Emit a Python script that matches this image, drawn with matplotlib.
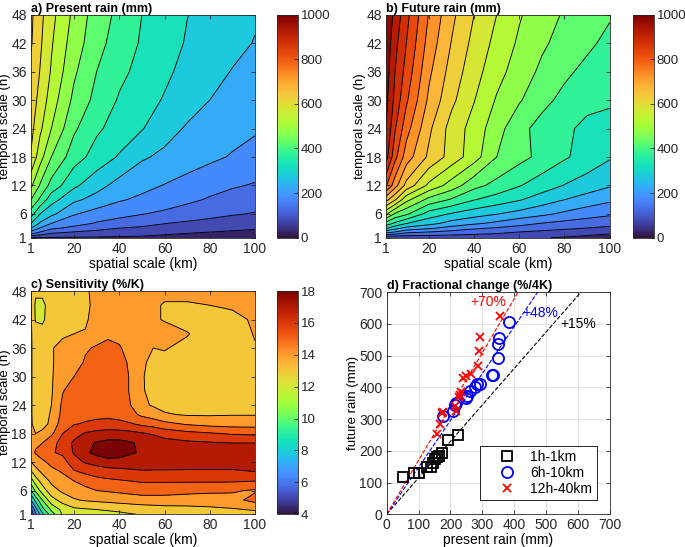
import numpy as np
import matplotlib
matplotlib.use("Agg")
import matplotlib.pyplot as plt
from matplotlib import colors, cm

plt.rcParams['font.family'] = ['Liberation Sans', 'DejaVu Sans']
plt.rcParams['axes.edgecolor'] = '#262626'
plt.rcParams['axes.linewidth'] = 0.6
plt.rcParams['xtick.color'] = '#262626'
plt.rcParams['ytick.color'] = '#262626'

# ---- panels a/b: rain vs spatial (km) and temporal (h) scale ----
km = [1, 5, 10, 20, 30, 40, 50, 60, 70, 80, 90, 100]
hours = [1, 2, 3, 4, 6, 9, 12, 18, 24, 30, 36, 42, 48]

present = [
    [50, 48, 47, 46, 45, 43, 41, 38, 34, 30, 25, 20],
    [170, 138, 104, 90, 82, 75, 68, 58, 52, 46, 40, 35],
    [250, 196, 160, 135, 115, 100, 92, 85, 77, 69, 62, 56],
    [300, 243, 200, 170, 145, 130, 116, 101, 92, 84, 77, 70],
    [372, 300, 262, 204, 180, 165, 152, 140, 127, 115, 104, 97],
    [450, 390, 320, 260, 232, 205, 190, 176, 160, 145, 132, 121],
    [510, 445, 382, 310, 268, 232, 214, 198, 182, 167, 155, 146],
    [595, 520, 450, 372, 330, 295, 256, 240, 225, 210, 196, 182],
    [615, 560, 500, 408, 358, 330, 303, 268, 245, 230, 217, 206],
    [625, 585, 525, 438, 385, 345, 320, 296, 270, 250, 234, 220],
    [640, 598, 545, 458, 400, 362, 335, 310, 285, 265, 248, 234],
    [655, 608, 555, 475, 418, 375, 345, 320, 296, 277, 262, 248],
    [660, 615, 565, 488, 425, 388, 350, 325, 301, 283, 268, 255],
]

future = [
    [57, 61, 66, 69, 68, 65, 63, 59, 52, 47, 39, 31],
    [200, 182, 148, 136, 125, 116, 106, 91, 81, 72, 63, 56],
    [306, 268, 234, 208, 180, 157, 145, 135, 122, 110, 99, 90],
    [381, 339, 301, 267, 231, 208, 188, 164, 148, 135, 125, 116],
    [509, 442, 409, 328, 295, 272, 252, 232, 211, 190, 172, 158],
    [668, 605, 515, 434, 394, 352, 328, 304, 276, 250, 228, 209],
    [806, 721, 634, 538, 478, 416, 384, 353, 325, 298, 277, 255],
    [920, 815, 725, 640, 580, 522, 450, 416, 386, 356, 331, 305],
    [950, 855, 770, 660, 580, 530, 470, 415, 382, 358, 340, 335],
    [965, 885, 808, 690, 612, 552, 495, 455, 415, 386, 362, 356],
    [975, 900, 832, 710, 630, 570, 518, 476, 440, 410, 387, 371],
    [985, 915, 850, 730, 648, 585, 535, 492, 458, 432, 410, 387],
    [995, 935, 866, 747, 662, 600, 550, 505, 471, 445, 425, 405],
]

# ---- panel c: sensitivity (%/K) ----
km_c = [1, 3, 6, 10, 15, 20, 25, 30, 35, 40, 45, 50, 55, 60, 70, 80, 90, 100]
hours_c = [1, 2, 4, 6, 8, 10, 12, 14, 16, 18, 20, 22, 24, 27, 30, 33, 36, 39, 42, 45, 48]

# one list per spatial scale (km_c), values along hours_c
sens_by_km = [
    [4.2, 4.8, 7.0, 8.9, 10.5, 11.9, 13.0, 13.5, 13.4, 13.2, 13.1, 13.1, 13.1, 13.1, 13.1, 13.1, 13.1, 13.1, 13.1, 13.1, 13.1],
    [5.7, 6.6, 8.3, 10.2, 11.5, 12.6, 13.4, 14.1, 13.8, 13.0, 12.7, 12.6, 12.6, 12.6, 12.6, 12.6, 12.6, 12.5, 11.9, 11.8, 12.2],
    [7.7, 8.6, 10.0, 11.5, 12.4, 13.2, 13.8, 14.5, 14.0, 13.2, 12.7, 12.6, 12.6, 12.6, 12.6, 12.6, 12.6, 12.4, 11.8, 11.7, 12.3],
    [9.5, 10.2, 11.6, 12.6, 13.2, 13.7, 14.3, 14.9, 14.7, 13.8, 13.2, 13.1, 13.0, 12.9, 12.9, 12.9, 12.95, 12.7, 12.6, 12.6, 12.7],
    [11.1, 11.3, 12.4, 13.2, 13.6, 14.1, 14.6, 15.2, 15.3, 15.0, 14.6, 14.3, 14.2, 13.95, 13.6, 13.4, 13.2, 12.9, 12.7, 12.7, 12.7],
    [11.4, 11.8, 12.9, 13.5, 14.0, 14.9, 15.6, 16.1, 16.2, 15.6, 14.95, 14.7, 14.6, 14.4, 14.0, 13.6, 13.3, 13.0, 12.8, 12.75, 12.8],
    [11.5, 11.9, 13.1, 13.7, 14.4, 15.2, 16.1, 16.8, 16.7, 16.1, 15.1, 14.7, 14.6, 14.5, 14.3, 14.1, 13.9, 13.05, 12.9, 12.85, 12.9],
    [11.6, 12.0, 13.2, 14.0, 14.7, 15.4, 16.4, 17.3, 17.1, 16.3, 15.3, 14.7, 14.6, 14.6, 14.5, 14.4, 14.1, 13.6, 13.3, 13.2, 13.2],
    [11.7, 12.1, 13.3, 14.1, 14.8, 15.6, 16.6, 17.6, 17.3, 16.4, 15.4, 14.7, 14.6, 14.6, 14.6, 14.5, 14.3, 13.8, 13.4, 13.3, 13.3],
    [11.8, 12.2, 13.4, 14.2, 14.9, 15.7, 16.6, 17.5, 17.3, 16.4, 15.3, 14.6, 14.5, 14.5, 14.5, 14.4, 14.1, 13.7, 13.4, 13.3, 13.3],
    [11.95, 12.3, 13.5, 14.3, 15.0, 15.8, 16.6, 17.1, 17.1, 16.3, 15.1, 14.3, 14.0, 13.9, 13.9, 13.8, 13.6, 13.4, 13.3, 13.3, 13.4],
    [12.05, 12.4, 13.6, 14.4, 15.1, 15.9, 16.6, 16.9, 16.8, 16.1, 14.8, 13.8, 13.2, 13.05, 13.05, 13.1, 13.15, 13.2, 13.2, 13.3, 13.4],
    [12.1, 12.5, 13.6, 14.4, 15.1, 15.9, 16.5, 16.8, 16.6, 15.9, 14.6, 13.5, 12.9, 12.85, 12.8, 12.85, 13.0, 13.1, 13.1, 13.2, 13.3],
    [12.2, 12.6, 13.6, 14.4, 15.1, 15.9, 16.5, 16.7, 16.4, 15.6, 14.3, 13.1, 12.7, 12.6, 12.6, 12.8, 13.05, 13.3, 12.95, 12.9, 13.3],
    [12.3, 12.7, 13.5, 14.3, 15.1, 15.9, 16.4, 16.6, 16.2, 15.3, 13.9, 12.9, 12.6, 12.5, 12.5, 12.6, 12.8, 13.05, 12.7, 12.9, 13.3],
    [12.4, 12.8, 13.5, 14.2, 15.1, 15.9, 16.4, 16.5, 16.1, 15.1, 13.7, 12.9, 12.6, 12.5, 12.5, 12.5, 12.6, 12.6, 12.7, 13.0, 13.2],
    [12.4, 12.9, 13.7, 14.1, 15.1, 15.9, 16.4, 16.4, 16.0, 14.9, 13.6, 12.95, 12.6, 12.5, 12.5, 12.5, 12.6, 12.6, 12.8, 13.1, 13.2],
    [12.6, 13.1, 14.3, 13.9, 15.0, 16.0, 16.5, 16.4, 16.0, 14.8, 13.6, 12.95, 12.7, 12.6, 12.6, 12.7, 12.95, 13.05, 13.1, 13.2, 13.2],
]

# ---- panel d: present vs future rain ----
present_1h1km = [50, 86, 101, 125, 140, 146, 151, 159, 165, 172, 193, 224]
future_1h1km = [119, 129, 131, 150, 150, 163, 174, 182, 185, 194, 234, 249]
present_6h10km = [175, 209, 214, 216, 248, 253, 261, 276, 282, 292, 329, 334, 348, 350, 352, 383]
future_6h10km = [311, 326, 346, 350, 366, 372, 389, 400, 410, 411, 438, 438, 493, 536, 556, 607]
present_12h40km = [157, 166, 172, 176, 215, 218, 226, 230, 233, 238, 249, 263, 285, 290, 291, 354]
future_12h40km = [252, 285, 320, 322, 340, 325, 370, 375, 384, 431, 436, 442, 468, 516, 558, 624]
change_pct = [15, 48, 70]
change_cols = ['k', 'b', 'r']


cmap = plt.get_cmap('turbo')
fig = plt.figure(figsize=(6.85, 5.47), dpi=100)


def style_axes(ax):
    ax.tick_params(direction='in', top=True, right=True, length=3, width=0.6,
                   labelsize=10, pad=3)


def field_panel(pos, cpos, xs, ys, z, levels, vmin, vmax, cticks, title,
                upper=False):
    ax = fig.add_axes(pos)
    X, Y = np.meshgrid(xs, ys)
    norm = colors.Normalize(vmin, vmax)
    if upper:
        # band coloured by its upper level
        fills = [cmap(norm(l)) for l in levels[1:]]
        ax.contourf(X, Y, z, levels=levels, colors=fills)
    else:
        ax.contourf(X, Y, z, levels=levels, cmap=cmap, norm=norm)
    ax.contour(X, Y, z, levels=levels, colors='k', linewidths=0.65)
    ax.set_xlim(1, 100)
    ax.set_ylim(1, 48)
    ax.set_xticks([1, 20, 40, 60, 80, 100])
    ax.set_yticks([1, 6, 12, 18, 24, 30, 36, 42, 48])
    ax.set_xlabel('spatial scale (km)', fontsize=10, labelpad=0.5)
    ax.set_ylabel('temporal scale (h)', fontsize=9.5, labelpad=0)
    ax.set_title(title, loc='left', fontsize=9, fontweight='bold', pad=2)
    style_axes(ax)
    cax = fig.add_axes(cpos)
    cb = fig.colorbar(cm.ScalarMappable(norm=norm, cmap=cmap), cax=cax)
    cb.set_ticks(cticks)
    cb.outline.set_linewidth(0.6)
    cax.tick_params(direction='in', length=3, width=0.6, labelsize=9.5, pad=2)
    return ax


lev_rain = np.arange(0, 1001, 50)
field_panel([0.0453, 0.5655, 0.327, 0.4077], [0.404, 0.5655, 0.0307, 0.4077],
            km, hours, np.array(present), lev_rain, 0, 1000,
            [0, 200, 400, 600, 800, 1000], 'a) Present rain (mm)')
field_panel([0.5635, 0.5655, 0.3265, 0.4077], [0.9236, 0.5655, 0.0311, 0.4077],
            km, hours, np.array(future), lev_rain, 0, 1000,
            [0, 200, 400, 600, 800, 1000], 'b) Future rain (mm)')
field_panel([0.0453, 0.0598, 0.327, 0.4082], [0.404, 0.0598, 0.0307, 0.4082],
            km_c, hours_c, np.array(sens_by_km).T, np.arange(4, 19, 1), 4, 18,
            [4, 6, 8, 10, 12, 14, 16, 18], 'c) Sensitivity (%/K)', upper=True)

# panel d
ax = fig.add_axes([0.5645, 0.0598, 0.326, 0.4059])
ax.grid(True, color='#dcdcdc', linewidth=0.6)
ax.set_axisbelow(True)
xx = np.array([0, 700])
for pct, col in zip(change_pct, change_cols):
    ax.plot(xx, xx * (1 + pct / 100), '--', color=col, linewidth=0.8)
ax.plot(present_1h1km, future_1h1km, 's', mfc='none', mec='k', ms=7, mew=1.3,
        label='1h-1km')
ax.plot(present_6h10km, future_6h10km, 'o', mfc='none', mec='b', ms=8, mew=1.3,
        label='6h-10km')
ax.plot(present_12h40km, future_12h40km, 'x', color='r', ms=6, mew=1.3,
        label='12h-40km')
ax.text(319, 668, '+70%', color='r', fontsize=10, ha='center', va='center')
ax.text(483, 634, '+48%', color='b', fontsize=10, ha='center', va='center')
ax.text(600, 600, '+15%', color='k', fontsize=10, ha='center', va='center')
ax.set_xlim(0, 700)
ax.set_ylim(0, 700)
ax.set_xticks(range(0, 701, 100))
ax.set_yticks(range(0, 701, 100))
ax.set_xlabel('present rain (mm)', fontsize=10, labelpad=0.5)
ax.set_ylabel('future rain (mm)', fontsize=9.5, labelpad=0)
ax.set_title('d) Fractional change (%/4K)', loc='left', fontsize=9,
             fontweight='bold', pad=2)
style_axes(ax)
leg = ax.legend(loc='lower right', bbox_to_anchor=(0.94, 0.064), fontsize=10,
                fancybox=False, edgecolor='k', framealpha=1, handlelength=3.2,
                handletextpad=0.1, labelspacing=0.15, borderpad=0.3,
                borderaxespad=0)
leg.get_frame().set_linewidth(0.6)

fig.savefig('out.png', dpi=100)
